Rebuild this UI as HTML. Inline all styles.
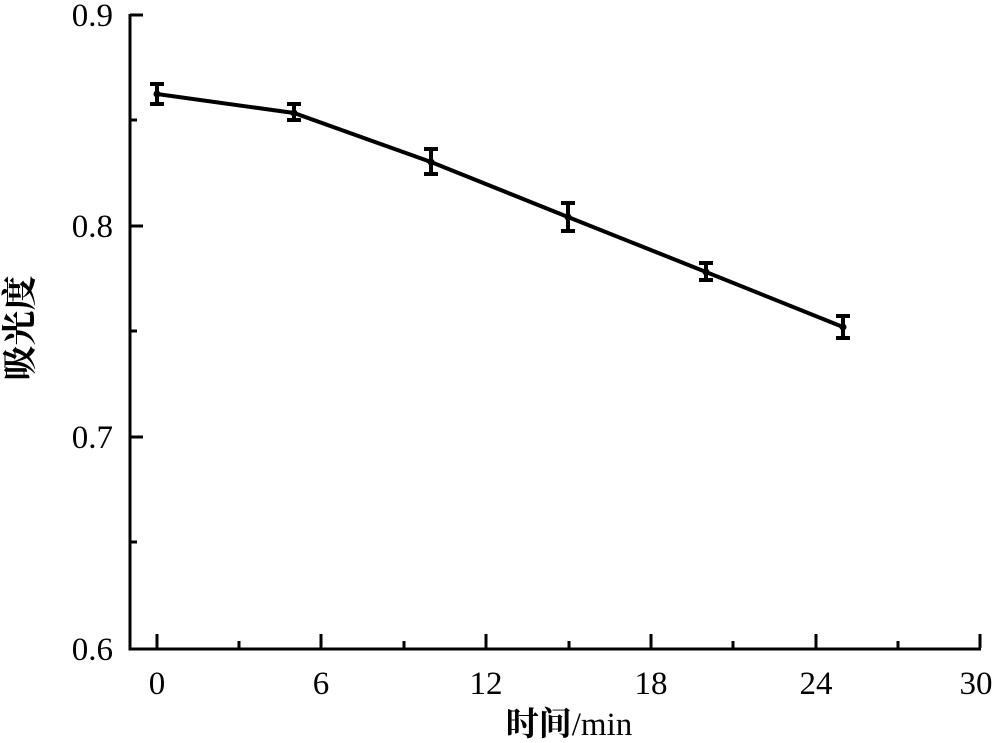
<!DOCTYPE html>
<html><head><meta charset="utf-8"><style>body{margin:0;background:#fff}svg{display:block}</style></head><body>
<svg width="1000" height="743" viewBox="0 0 1000 743" xmlns="http://www.w3.org/2000/svg" font-family="Liberation Serif, serif" fill="#000">
<g stroke="#000" stroke-width="3" fill="none">
<path d="M130 14 V649 H981"/>
<path d="M130 15 H143 M130 120 H137 M130 226 H143 M130 331 H137 M130 437 H143 M130 542 H137"/>
<path d="M157 648 V634 M239 648 V641 M321 648 V634 M404 648 V641 M486 648 V634 M569 648 V641 M651 648 V634 M733 648 V641 M816 648 V634 M898 648 V641 M980 648 V634"/>
</g>
<g font-size="33" text-anchor="end">
<text x="113" y="26">0.9</text><text x="113" y="237">0.8</text><text x="113" y="448">0.7</text><text x="113" y="660">0.6</text>
</g>
<g font-size="33" text-anchor="middle">
<text x="157" y="694">0</text><text x="321" y="694">6</text><text x="486" y="694">12</text><text x="651" y="694">18</text><text x="816" y="694">24</text><text x="976" y="694">30</text>
</g>
<text x="569" y="735" font-size="33" text-anchor="middle" font-weight="bold" font-family="Liberation Serif, 'Noto Serif CJK SC', serif">时间<tspan font-weight="normal">/min</tspan></text>
<text transform="translate(32 328) rotate(-90)" font-size="35" font-weight="bold" text-anchor="middle" font-family="'Noto Serif CJK SC', serif">吸光度</text>
<polyline points="157,94 294,113 431,162 568,217 706,272 843,327" fill="none" stroke="#000" stroke-width="4"/>
<g stroke="#000" stroke-width="4" fill="none">
<path d="M157 84 V104 M150 84 H164 M150 104 H164"/>
<path d="M294 104 V120 M287 104 H301 M287 120 H301"/>
<path d="M431 149 V174 M424 149 H438 M424 174 H438"/>
<path d="M568 203 V231 M561 203 H575 M561 231 H575"/>
<path d="M706 263 V280 M699 263 H713 M699 280 H713"/>
<path d="M843 316 V338 M836 316 H850 M836 338 H850"/>
</g>
<g><circle cx="157" cy="94" r="3.5"/><circle cx="294" cy="113" r="3.5"/><circle cx="431" cy="162" r="3.5"/><circle cx="568" cy="217" r="3.5"/><circle cx="706" cy="272" r="3.5"/><circle cx="843" cy="327" r="3.5"/></g>
</svg>
</body></html>
